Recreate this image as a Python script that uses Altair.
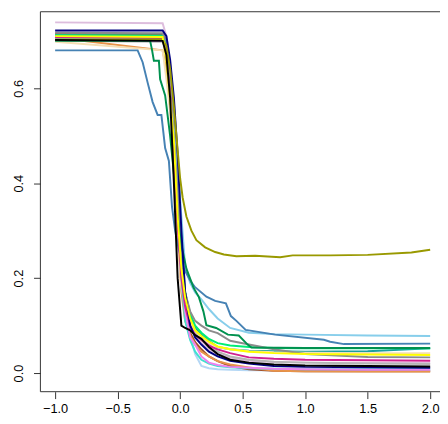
import altair as alt
import pandas as pd

# common x grid for most curves
G = [-1.0, -0.14, -0.11, -0.08, -0.05, -0.02, 0.01, 0.04, 0.08, 0.12, 0.17,
     0.23, 0.3, 0.4, 0.55, 0.75, 1.0, 1.5, 2.0]

lavender = [0.739, 0.737, 0.71, 0.65, 0.55, 0.42, 0.28, 0.17, 0.11, 0.08, 0.065, 0.05, 0.04, 0.032, 0.026, 0.023, 0.022, 0.021, 0.021]
lightblue = [0.700, 0.700, 0.69, 0.65, 0.57, 0.45, 0.30, 0.17, 0.08, 0.04, 0.015, 0.01, 0.008, 0.007, 0.006, 0.006, 0.005, 0.005, 0.005]
silver = [0.700, 0.698, 0.68, 0.60, 0.50, 0.35, 0.21, 0.14, 0.10, 0.085, 0.07, 0.06, 0.045, 0.035, 0.028, 0.024, 0.022, 0.020, 0.019]
sienna = [0.715, 0.713, 0.69, 0.61, 0.50, 0.34, 0.19, 0.12, 0.085, 0.065, 0.05, 0.035, 0.025, 0.015, 0.008, 0.005, 0.004, 0.004, 0.004]
orange = [0.707, 0.68, 0.64, 0.56, 0.45, 0.30, 0.17, 0.11, 0.08, 0.06, 0.045, 0.035, 0.025, 0.018, 0.012, 0.005, 0.004, 0.003, 0.003]
teal = [0.712, 0.711, 0.69, 0.62, 0.52, 0.37, 0.24, 0.17, 0.12, 0.095, 0.08, 0.068, 0.055, 0.05, 0.047, 0.046, 0.045, 0.046, 0.052]
springgreen = [0.712, 0.711, 0.69, 0.62, 0.52, 0.37, 0.24, 0.17, 0.125, 0.10, 0.085, 0.072, 0.063, 0.058, 0.055, 0.053, 0.052, 0.052, 0.052]
tan = [0.698, 0.68, 0.62, 0.55, 0.45, 0.30, 0.18, 0.14, 0.11, 0.09, 0.075, 0.063, 0.055, 0.05, 0.046, 0.044, 0.043, 0.042, 0.042]
turquoise = [0.706, 0.70, 0.68, 0.62, 0.52, 0.36, 0.20, 0.11, 0.07, 0.045, 0.028, 0.02, 0.015, 0.012, 0.010, 0.009, 0.008, 0.008, 0.008]
violet = [0.704, 0.70, 0.69, 0.64, 0.55, 0.42, 0.25, 0.13, 0.075, 0.06, 0.035, 0.022, 0.017, 0.013, 0.011, 0.009, 0.008, 0.007, 0.007]
gray = [0.717, 0.716, 0.70, 0.64, 0.54, 0.40, 0.26, 0.17, 0.13, 0.11, 0.10, 0.09, 0.084, 0.068, 0.06, 0.05, 0.04, 0.034, 0.033]
skyblue = [0.705, 0.704, 0.69, 0.64, 0.56, 0.44, 0.33, 0.225, 0.19, 0.17, 0.155, 0.135, 0.115, 0.095, 0.085, 0.082, 0.081, 0.079, 0.078]
magenta = [0.708, 0.706, 0.67, 0.59, 0.47, 0.31, 0.20, 0.14, 0.10, 0.08, 0.07, 0.058, 0.05, 0.042, 0.033, 0.03, 0.028, 0.027, 0.026]
navy = [0.722, 0.722, 0.71, 0.66, 0.58, 0.46, 0.30, 0.17, 0.10, 0.075, 0.06, 0.045, 0.035, 0.026, 0.02, 0.015, 0.013, 0.012, 0.011]
yellow = [0.710, 0.708, 0.66, 0.575, 0.49, 0.33, 0.22, 0.16, 0.115, 0.09, 0.078, 0.066, 0.056, 0.05, 0.045, 0.042, 0.040, 0.039, 0.038]
black = [0.702, 0.700, 0.67, 0.58, 0.40, 0.20, 0.10, 0.095, 0.09, 0.08, 0.072, 0.055, 0.04, 0.028, 0.022, 0.018, 0.016, 0.015, 0.014]

steel_x = [-1.0, -0.34, -0.30, -0.26, -0.22, -0.18, -0.15, -0.12, -0.09, -0.065, -0.04, -0.01, 0.03, 0.08, 0.115, 0.21, 0.28, 0.366, 0.406, 0.45, 0.524, 0.76, 1.15, 1.2, 1.31, 2.0]
steel_y = [0.680, 0.680, 0.655, 0.612, 0.571, 0.544, 0.544, 0.474, 0.447, 0.35, 0.30, 0.26, 0.22, 0.195, 0.182, 0.161, 0.152, 0.147, 0.12, 0.11, 0.091, 0.081, 0.07, 0.066, 0.061, 0.062]

green_x = [-1.0, -0.24, -0.225, -0.21, -0.17, -0.16, -0.12, -0.08, -0.05, -0.02, 0.01, 0.05, 0.107, 0.15, 0.186, 0.21, 0.288, 0.382, 0.469, 0.54, 0.57, 1.0, 2.0]
green_y = [0.700, 0.700, 0.681, 0.658, 0.658, 0.619, 0.585, 0.50, 0.42, 0.33, 0.27, 0.22, 0.18, 0.16, 0.13, 0.101, 0.095, 0.081, 0.079, 0.06, 0.054, 0.053, 0.053]

olive_x = [-1.0, -0.14, -0.11, -0.08, -0.05, -0.02, 0.0, 0.02, 0.05, 0.09, 0.13, 0.2, 0.28, 0.35, 0.45, 0.6, 0.8, 0.9, 1.2, 1.5, 1.85, 2.0]
olive_y = [0.703, 0.703, 0.69, 0.64, 0.56, 0.47, 0.41, 0.37, 0.33, 0.30, 0.28, 0.265, 0.255, 0.25, 0.246, 0.247, 0.244, 0.248, 0.248, 0.249, 0.254, 0.260]

series = [
    ("lavender", "#DDBDDD", G, lavender),
    ("lightblue", "#B4D7F5", G, lightblue),
    ("silver", "#B5B5B5", G, silver),
    ("sienna", "#A0522D", G, sienna),
    ("orange", "#E8944A", G, orange),
    ("teal", "#1B9E9E", G, teal),
    ("springgreen", "#00EE76", G, springgreen),
    ("tan", "#F5DEB3", G, tan),
    ("turquoise", "#40E0D0", G, turquoise),
    ("violet", "#EE82EE", G, violet),
    ("gray", "#8C8C8C", G, gray),
    ("skyblue", "#87CEEB", G, skyblue),
    ("steelblue", "#4682B4", steel_x, steel_y),
    ("green", "#00914F", green_x, green_y),
    ("magenta", "#D02090", G, magenta),
    ("navy", "#000080", G, navy),
    ("olive", "#999900", olive_x, olive_y),
    ("yellow", "#FFFF00", G, yellow),
    ("black", "#000000", G, black),
]

rows = []
for i, (name, col, xs, ys) in enumerate(series):
    key = f"{i:02d}_{name}"
    for j, (xv, yv) in enumerate(zip(xs, ys)):
        rows.append({"s": key, "x": xv, "y": yv, "o": j})
df = pd.DataFrame(rows)
keys = [f"{i:02d}_{s[0]}" for i, s in enumerate(series)]
cols = [s[1] for s in series]

W, H = 399, 387
XMIN, XMAX = -1.1178, 2.0158
YMIN, YMAX = -0.0393, 0.7614

lines = alt.Chart(df).mark_line(strokeWidth=2, clip=True).encode(
    x=alt.X("x:Q", scale=alt.Scale(domain=[XMIN, XMAX], nice=False, zero=False),
            axis=alt.Axis(values=[-1.0, -0.5, 0.0, 0.5, 1.0, 1.5, 2.0], format=".1f",
                          title=None, grid=False, domain=False, tickSize=7,
                          tickColor="#333333", labelColor="#000000",
                          labelFont="Liberation Sans", labelFontSize=13,
                          labelPadding=4)),
    y=alt.Y("y:Q", scale=alt.Scale(domain=[YMIN, YMAX], nice=False, zero=False),
            axis=alt.Axis(values=[0.0, 0.2, 0.4, 0.6], format=".1f", title=None,
                          grid=False, domain=False, tickSize=7, tickColor="#333333",
                          labelColor="#000000", labelFont="Liberation Sans",
                          labelFontSize=13, labelAngle=270, labelAlign="center",
                          labelBaseline="bottom", labelPadding=8)),
    color=alt.Color("s:N", scale=alt.Scale(domain=keys, range=cols), legend=None),
    order=alt.Order("o:Q"),
)

one = pd.DataFrame({"a": [0]})
top = alt.Chart(one).mark_rule(color="#333333", strokeWidth=1).encode(
    x=alt.value(0), x2=alt.value(W + 8), y=alt.value(0))
bottom = alt.Chart(one).mark_rule(color="#333333", strokeWidth=1).encode(
    x=alt.value(0), x2=alt.value(W + 8), y=alt.value(H))
left = alt.Chart(one).mark_rule(color="#333333", strokeWidth=1).encode(
    x=alt.value(0), y=alt.value(0), y2=alt.value(H))

chart = alt.layer(lines, top, bottom, left).properties(
    width=W, height=H,
    autosize=alt.AutoSizeParams(type="none"),
    padding={"left": 33, "top": 0, "right": 8, "bottom": 24},
).configure_view(stroke=None)

chart.save("out.html", embed_options={"renderer": "svg", "actions": False})
